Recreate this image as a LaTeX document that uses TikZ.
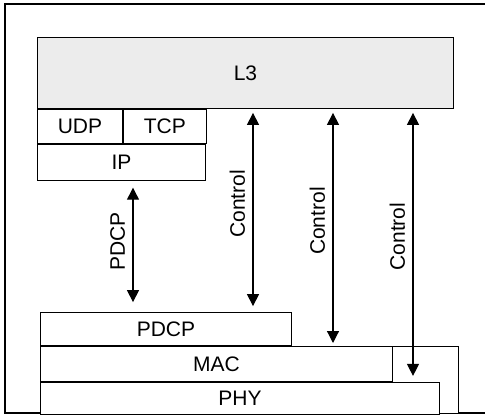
\documentclass[tikz,border=0pt]{standalone}
\usepackage{fontspec}
\setmainfont{Liberation Sans}
\usetikzlibrary{arrows.meta,positioning,calc}

\begin{document}
\begin{tikzpicture}[
  x=1pt, y=-1pt,
  every node/.style={font=\fontsize{21}{25}\selectfont},
  box/.style={draw, line width=0.9pt, fill=white, inner sep=0pt, anchor=north west},
  arr/.style={{Triangle[length=12pt,width=12pt]}-{Triangle[length=12pt,width=12pt]}, line width=1.2pt},
  lbl/.style={rotate=90, anchor=south, inner sep=0pt, outer sep=8pt, pos=0.47}
]
\useasboundingbox (0,0) rectangle (485,417);
\draw[line width=1.4pt] (485,4) -- (5,4) -- (5,413) -- (485,413);

% upper stack
\node[box, fill=gray!15, minimum width=416pt, minimum height=71pt] (l3) at (37,37) {L3};
\node[box, minimum width=85pt, minimum height=34pt] (udp) at (l3.south west) {UDP};
\node[box, minimum width=83pt, minimum height=34pt] (tcp) at (udp.north east) {TCP};
\node[box, minimum width=168pt, minimum height=36pt] (ip) at (udp.south west) {IP};

% lower stack
\node[box, minimum width=66pt, minimum height=67pt] (ext) at (392,346) {};
\node[box, minimum width=352pt, minimum height=35pt] (mac) at (40,346) {MAC};
\node[box, minimum width=251pt, minimum height=33pt, anchor=south west] (rlc) at (mac.north west) {PDCP};
\node[box, minimum width=399pt, minimum height=32pt] (phy) at (mac.south west) {PHY};

% arrows
\coordinate (xp) at (133,0);
\coordinate (x1) at (253,0);
\coordinate (x2) at (333,0);
\coordinate (x3) at (413,0);

\draw[arr] ($(ip.south -| xp)+(0,7)$) -- node[lbl] {PDCP} ($(rlc.north -| xp)+(0,-10)$);
\draw[arr] ($(l3.south -| x1)+(0,4)$) -- node[lbl] {Control} ($(rlc.north -| x1)+(0,-6)$);
\draw[arr] ($(l3.south -| x2)+(0,4)$) -- node[lbl] {Control} ($(mac.north -| x2)+(0,-3)$);
\draw[arr] ($(l3.south -| x3)+(0,4)$) -- node[lbl] {Control} ($(phy.north -| x3)+(0,-6)$);
\end{tikzpicture}
\end{document}
